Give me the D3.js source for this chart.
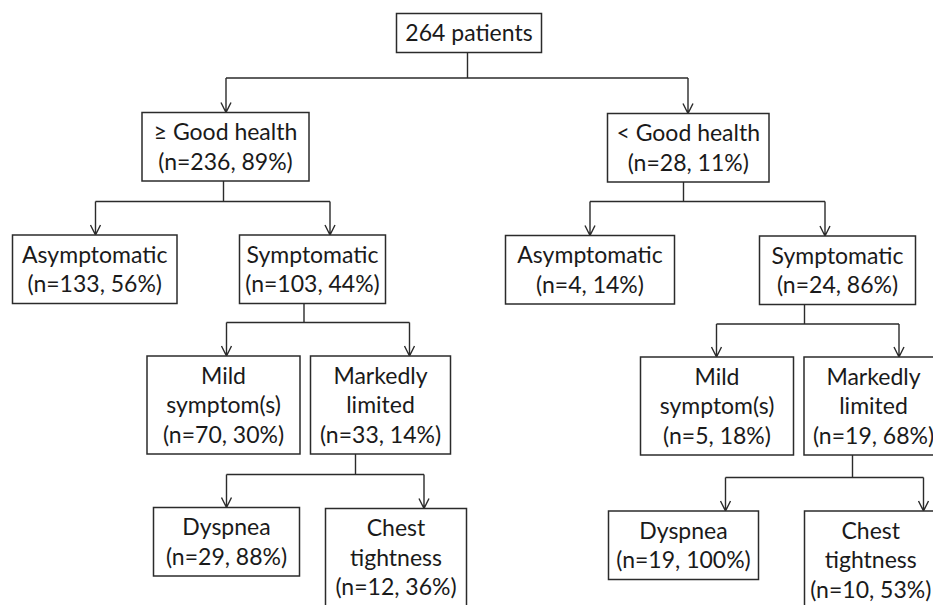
<!DOCTYPE html>
<html>
<head>
<script src="https://d3js.org/d3.v7.min.js"></script>
<style>
  body { margin: 0; background: #fff; }
  text { font-family: Lato, "Open Sans", sans-serif; font-size: 23px; fill: #1a1a1a; }
</style>
</head>
<body>
<div id="chart"></div>
<script>
var width = 933,
  height = 605;

// tree structure and the words in each box
var ids     = ["root", "good", "poor", "gAsym", "gSym", "gMild", "gMark", "gDysp", "gChest",
               "pAsym", "pSym", "pMild", "pMark", "pDysp", "pChest"];
var parents = ["", "root", "root", "good", "good", "gSym", "gSym", "gMark", "gMark",
               "poor", "poor", "pSym", "pSym", "pMark", "pMark"];
var names   = [["264 patients"], ["\u2265 Good health"], ["< Good health"],
               ["Asymptomatic"], ["Symptomatic"], ["Mild", "symptom(s)"], ["Markedly", "limited"],
               ["Dyspnea"], ["Chest", "tightness"],
               ["Asymptomatic"], ["Symptomatic"], ["Mild", "symptom(s)"], ["Markedly", "limited"],
               ["Dyspnea"], ["Chest", "tightness"]];
var counts   = [null, 236, 28, 133, 103, 70, 33, 29, 12, 4, 24, 5, 19, 19, 10];
var percents = [null, 89, 11, 56, 44, 30, 14, 88, 36, 14, 86, 18, 68, 100, 53];

// layout of the boxes (left, right, top) and connectors
var boxLeft  = [396.5, 142, 607.5, 12.5, 239.5, 147, 310.5, 153.5, 325.5, 505.5, 759.5, 640.5, 804, 608.5, 804.5];
var boxRight = [541.5, 309, 769, 177, 385.5, 300, 450.5, 299.5, 466.5, 674.5, 915.5, 793.5, 943, 758.5, 937];
var boxTop   = [13.5, 112.5, 113.5, 235, 235, 356, 356, 507.5, 508.5, 235.5, 236, 357, 357, 511, 511];
var arrowX   = [null, 226, 688, 95.5, 330, 226.5, 409.5, 226.5, 424, 590, 825, 716.5, 899, 725.5, 923.5];
var stemX    = {root: 467.5, good: 223.5, poor: 683.5, gSym: 304, pSym: 804.5, gMark: 355.5, pMark: 852.5};
var barY     = {root: 78, good: 201.5, poor: 201.5, gSym: 322.5, pSym: 324, gMark: 474.5, pMark: 477.5};

var lineGap = 29.5;

var table = ids.map(function(id, i){
  var lines = names[i].slice();
  if (counts[i] !== null) lines.push("(n=" + counts[i] + ", " + percents[i] + "%)");
  return {id: id, parent: parents[i], lines: lines,
          x0: boxLeft[i], x1: boxRight[i], y0: boxTop[i],
          h: 39 + lineGap * (lines.length - 1), ax: arrowX[i]};
});

var root = d3.stratify()
  .id(function(d){ return d.id; })
  .parentId(function(d){ return d.parent; })(table);

var svg = d3.select("#chart").append("svg")
  .attr("width", width)
  .attr("height", height);

// connectors
var links = svg.append("g")
  .attr("fill", "none")
  .attr("stroke", "#2b2b2b")
  .attr("stroke-width", 1.4);

root.each(function(node){
  if (!node.children) return;
  var d = node.data;
  var sx = stemX[d.id], by = barY[d.id];
  var xs = node.children.map(function(c){ return c.data.ax; });
  var p = d3.path();
  p.moveTo(sx, d.y0 + d.h);
  p.lineTo(sx, by);
  p.moveTo(d3.min(xs), by);
  p.lineTo(d3.max(xs), by);
  node.children.forEach(function(c){
    var ax = c.data.ax, top = c.data.y0;
    p.moveTo(ax, by);
    p.lineTo(ax, top);
    p.moveTo(ax - 5, top - 10);
    p.lineTo(ax, top);
    p.lineTo(ax + 5, top - 10);
  });
  links.append("path").attr("d", p.toString());
});

// boxes
var boxes = svg.selectAll("g.box").data(root.descendants())
  .enter().append("g")
  .attr("class", "box");

boxes.append("rect")
  .attr("x", function(n){ return n.data.x0; })
  .attr("y", function(n){ return n.data.y0; })
  .attr("width", function(n){ return n.data.x1 - n.data.x0; })
  .attr("height", function(n){ return n.data.h; })
  .attr("fill", "#fff")
  .attr("stroke", "#2b2b2b")
  .attr("stroke-width", 1.5);

boxes.each(function(n){
  var d = n.data;
  var cx = (d.x0 + d.x1) / 2, cy = d.y0 + d.h / 2;
  var k = d.lines.length;
  d3.select(this).selectAll("text").data(d.lines)
    .enter().append("text")
    .attr("x", cx)
    .attr("y", function(t, i){ return cy + (i - (k - 1) / 2) * lineGap; })
    .attr("dy", "0.36em")
    .attr("text-anchor", "middle")
    .text(function(t){ return t; });
});
</script>
</body>
</html>
